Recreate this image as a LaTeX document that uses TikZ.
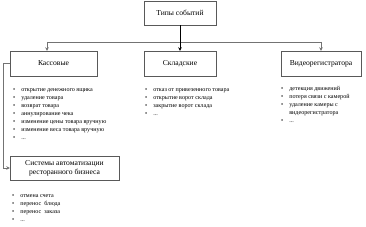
\documentclass[tikz,border=0pt]{standalone}
\usepackage{fontspec}
\setmainfont{Liberation Serif}
\usetikzlibrary{arrows.meta}
\newcommand{\evlist}[1]{\begin{tabular}{@{}l@{\hspace{6pt}}l@{}}#1\end{tabular}}
\newcommand{\itm}{\textbullet &}
\begin{document}
\begin{tikzpicture}[x=1pt, y=-1pt,
  box/.style={draw=black!65, fill=white, minimum height=24pt, inner sep=1pt,
    font=\fontsize{7.6}{9}\selectfont, align=center},
  lst/.style={anchor=north west, inner sep=0pt,
    font=\fontsize{6.1}{8}\selectfont},
  con/.style={draw=black!55, line width=0.6pt},
  tip/.style={-{Stealth[length=3.5pt, width=3.5pt]}}]
\useasboundingbox (0,0) rectangle (366,227);
\node[box, minimum width=72pt] (types) at (180,13) {Типы событий};
\node[box, minimum width=87pt, minimum height=25pt] (cash) at (53.5,63.5) {Кассовые};
\node[box, minimum width=72pt, minimum height=25pt] (store) at (180,63.5) {Складские};
\node[box, minimum width=80pt, minimum height=25pt] (video) at (321,63.5) {Видеорегистратора};
\node[box, minimum width=109pt] (rest) at (64.5,168) {Системы автоматизации\\ресторанного бизнеса};
\coordinate (hl) at (47,42);
\coordinate (hr) at (321,42);
\coordinate (lt) at (3,63.5);
\coordinate (lb) at (3,168);
% connectors
\draw[con] (hl) -- (hr);
\draw[con, tip] (hl) -- (hl |- cash.north);
\draw[con, tip] (hr) -- (video.north);
\draw[line width=0.6pt, tip] (types.south) -- (store.north);
\draw[con] (cash.west) -- (lt) -- (lb);
\draw[con, tip] (lb) -- (rest.west);
% event lists
\node[lst] (cashl) at (13,86) {\evlist{%
  \itm открытие денежного ящика\\
  \itm удаление товара\\
  \itm возврат товара\\
  \itm аннулирование чека\\
  \itm изменение цены товара вручную\\
  \itm изменение веса товара вручную\\
  \itm ...}};
\node[lst] (storel) at (145,86) {\evlist{%
  \itm отказ от привезенного товара\\
  \itm открытие ворот склада\\
  \itm закрытие ворот склада\\
  \itm ...}};
\node[lst] (videol) at (281,85) {\evlist{%
  \itm детекция движений\\
  \itm потеря связи с камерой\\
  \itm удаление камеры с\\
  & видеорегистратора\\
  \itm ...}};
\node[lst] (restl) at (12,192) {\evlist{%
  \itm отмена счета\\
  \itm перенос\ \ блюда\\
  \itm перенос\ \ заказа\\
  \itm ...}};
\end{tikzpicture}
\end{document}
